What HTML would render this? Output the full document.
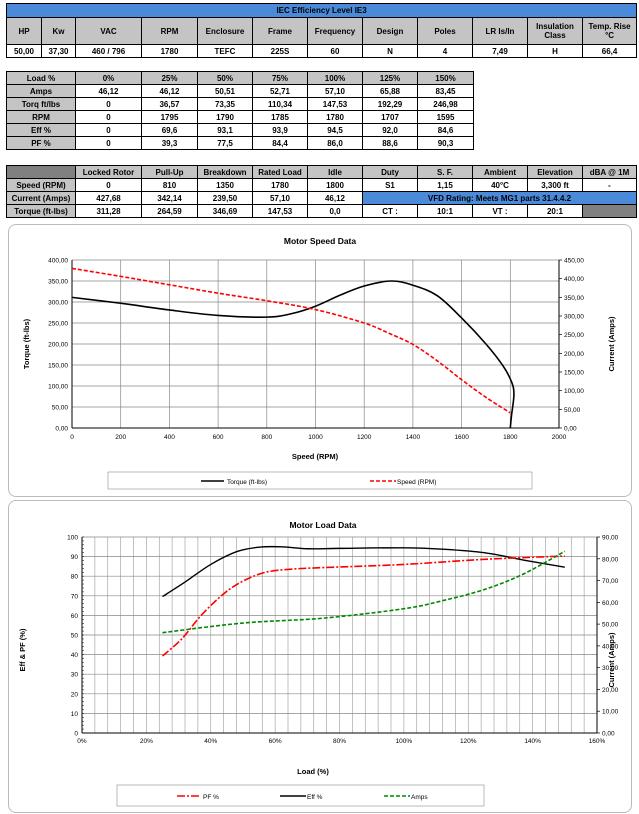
<!DOCTYPE html>
<html><head><meta charset="utf-8">
<style>
body{margin:0;width:639px;height:814px;background:#fff;position:relative;overflow:hidden;font-family:"Liberation Sans",sans-serif}
table{position:absolute;border-collapse:collapse;table-layout:fixed;font-size:8px;font-weight:bold;text-align:center}
td{border:1.5px solid #000;padding:0;overflow:hidden;white-space:nowrap;line-height:9px}
.g{background:#c4c4c4}
.d{background:#808080}
.b{background:#4a8ad8}
.panel{position:absolute;border:1px solid #bbb;border-radius:8px;background:#fff}
svg text{font-family:"Liberation Sans",sans-serif}
</style></head><body>

<table style="left:6px;top:3px;width:630px">
<colgroup><col style="width:35px"><col style="width:34px"><col style="width:66px"><col style="width:56px"><col style="width:55px"><col style="width:55px"><col style="width:55px"><col style="width:55px"><col style="width:55px"><col style="width:55px"><col style="width:55px"><col style="width:54px"></colgroup>
<tr style="height:14px"><td class="b" colspan="12">IEC Efficiency Level IE3</td></tr>
<tr style="height:27px" class="g"><td class="g">HP</td><td class="g">Kw</td><td class="g">VAC</td><td class="g">RPM</td><td class="g">Enclosure</td><td class="g">Frame</td><td class="g">Frequency</td><td class="g">Design</td><td class="g">Poles</td><td class="g">LR Is/In</td><td class="g">Insulation<br>Class</td><td class="g">Temp. Rise<br>°C</td></tr>
<tr style="height:13px"><td>50,00</td><td>37,30</td><td>460 / 796</td><td>1780</td><td>TEFC</td><td>225S</td><td>60</td><td>N</td><td>4</td><td>7,49</td><td>H</td><td>66,4</td></tr>
</table>

<table style="left:6px;top:71px;width:467px">
<colgroup><col style="width:69px"><col style="width:66px"><col style="width:56px"><col style="width:55px"><col style="width:55px"><col style="width:55px"><col style="width:55px"><col style="width:56px"></colgroup>
<tr style="height:13px"><td class="g">Load %</td><td class="g">0%</td><td class="g">25%</td><td class="g">50%</td><td class="g">75%</td><td class="g">100%</td><td class="g">125%</td><td class="g">150%</td></tr>
<tr style="height:13px"><td class="g">Amps</td><td>46,12</td><td>46,12</td><td>50,51</td><td>52,71</td><td>57,10</td><td>65,88</td><td>83,45</td></tr>
<tr style="height:13px"><td class="g">Torq ft/lbs</td><td>0</td><td>36,57</td><td>73,35</td><td>110,34</td><td>147,53</td><td>192,29</td><td>246,98</td></tr>
<tr style="height:13px"><td class="g">RPM</td><td>0</td><td>1795</td><td>1790</td><td>1785</td><td>1780</td><td>1707</td><td>1595</td></tr>
<tr style="height:13px"><td class="g">Eff %</td><td>0</td><td>69,6</td><td>93,1</td><td>93,9</td><td>94,5</td><td>92,0</td><td>84,6</td></tr>
<tr style="height:13px"><td class="g">PF %</td><td>0</td><td>39,3</td><td>77,5</td><td>84,4</td><td>86,0</td><td>88,6</td><td>90,3</td></tr>
</table>

<table style="left:6px;top:165px;width:630px">
<colgroup><col style="width:69px"><col style="width:66px"><col style="width:56px"><col style="width:55px"><col style="width:55px"><col style="width:55px"><col style="width:55px"><col style="width:55px"><col style="width:55px"><col style="width:55px"><col style="width:54px"></colgroup>
<tr style="height:13px"><td class="d"></td><td class="g">Locked Rotor</td><td class="g">Pull-Up</td><td class="g">Breakdown</td><td class="g">Rated Load</td><td class="g">Idle</td><td class="g">Duty</td><td class="g">S. F.</td><td class="g">Ambient</td><td class="g">Elevation</td><td class="g">dBA @ 1M</td></tr>
<tr style="height:13px"><td class="g">Speed (RPM)</td><td>0</td><td>810</td><td>1350</td><td>1780</td><td>1800</td><td>S1</td><td>1,15</td><td>40°C</td><td>3,300 ft</td><td>-</td></tr>
<tr style="height:13px"><td class="g">Current (Amps)</td><td>427,68</td><td>342,14</td><td>239,50</td><td>57,10</td><td>46,12</td><td class="b" colspan="5">VFD Rating: Meets MG1 parts 31.4.4.2</td></tr>
<tr style="height:13px"><td class="g">Torque (ft-lbs)</td><td>311,28</td><td>264,59</td><td>346,69</td><td>147,53</td><td>0,0</td><td>CT :</td><td>10:1</td><td>VT :</td><td>20:1</td><td class="d"></td></tr>
</table>

<div class="panel" style="left:8px;top:224px;width:622px;height:271px"></div>
<div class="panel" style="left:8px;top:500px;width:622px;height:311px"></div>

<svg id="s" width="639" height="814" style="position:absolute;left:0;top:0"></svg>

<script>
var s=document.getElementById('s'),h='';
function t(x,y,str,o){o=o||{};h+='<text x="'+x+'" y="'+y+'" font-size="'+(o.fs||7)+'" text-anchor="'+(o.a||'middle')+'" font-weight="'+(o.w||'normal')+'"'+(o.tr?' transform="'+o.tr+'"':'')+'>'+str+'</text>';}
function l(x1,y1,x2,y2,c,w){h+='<line x1="'+x1+'" y1="'+y1+'" x2="'+x2+'" y2="'+y2+'" stroke="'+c+'" stroke-width="'+(w||0.7)+'"/>';}
function curve(pts,fx,fy,c,w,dash){
 var P=pts.map(function(p){return [fx(p[0]),fy(p[1])];});
 var d='M'+P[0][0]+','+P[0][1];
 for(var i=0;i<P.length-1;i++){var p0=P[i-1]||P[i],p1=P[i],p2=P[i+1],p3=P[i+2]||p2;
  d+=' C'+(p1[0]+(p2[0]-p0[0])/6)+','+(p1[1]+(p2[1]-p0[1])/6)+' '+(p2[0]-(p3[0]-p1[0])/6)+','+(p2[1]-(p3[1]-p1[1])/6)+' '+p2[0]+','+p2[1];}
 h+='<path d="'+d+'" fill="none" stroke="'+c+'" stroke-width="'+w+'"'+(dash?' stroke-dasharray="'+dash+'"':'')+'/>';}
function fmt(v){return v.toFixed(2).replace('.',',');}
var X0=72,X1=559,Y0=428,Y1=260;
var fx=function(v){return X0+(X1-X0)*v/2000},fy=function(v){return Y0-(Y0-Y1)*v/400};
for(var v=0;v<=2000;v+=200){l(fx(v),Y1,fx(v),Y0,'#888');t(fx(v),Y0+11,v,{fs:6.5});}
for(var v=0;v<=400;v+=50){l(X0,fy(v),X1,fy(v),'#888');t(X0-4,fy(v)+2.5,fmt(v),{fs:6.5,a:'end'});}
for(var v=0;v<=450;v+=50){var y=Y0-(Y0-Y1)*v/450;l(X1,y,X1+3,y,'#000');t(X1+5,y+2.5,fmt(v),{fs:6.5,a:'start'});}
l(X0,Y1,X0,Y0,'#000',1);l(X1,Y1,X1,Y0,'#000',1);l(X0,Y0,X1,Y0,'#000',1);
t(320,244,'Motor Speed Data',{fs:8.5,w:'bold'});
t(315,459,'Speed (RPM)',{fs:7.5,w:'bold'});
t(29,344,'Torque (ft-lbs)',{fs:7.5,w:'bold',tr:'rotate(-90 29 344)'});
t(614,344,'Current (Amps)',{fs:7.5,w:'bold',tr:'rotate(-90 614 344)'});
curve([[0,311],[200,297],[400,281],[600,268],[800,264],[900,272],[1000,290],[1100,316],[1200,338],[1310,350],[1400,340],[1500,315],[1600,262],[1700,200],[1770,148],[1805,110],[1815,80],[1805,30],[1800,0]],fx,fy,'#000',1.6);
curve([[0,380],[200,361],[400,341],[600,321],[800,303],[1000,282],[1200,250],[1300,226],[1400,199],[1500,160],[1600,115],[1700,73],[1800,36]],fx,fy,'#f00',1.6,'4,2');
h+='<rect x="108" y="472" width="424" height="17" fill="none" stroke="#aaa" stroke-width="0.8"/>';
l(201,481,224,481,'#000',1.6);t(227,484,'Torque (ft-lbs)',{fs:6.5,a:'start'});
h+='<line x1="370" y1="481" x2="396" y2="481" stroke="#f00" stroke-width="1.6" stroke-dasharray="4,2"/>';
t(397,484,'Speed (RPM)',{fs:6.5,a:'start'});
var A0=82,A1=597,B0=733,B1=537;
var gx=function(v){return A0+(A1-A0)*v/160},gy=function(v){return B0-(B0-B1)*v/100};
for(var v=0;v<=160;v+=4){l(gx(v),B1,gx(v),B0,'#999',0.6);}
for(var v=0;v<=160;v+=20){t(gx(v),B0+10,v+'%',{fs:6.5});}
for(var v=0;v<=100;v+=10){l(A0,gy(v),A1,gy(v),'#888');t(A0-4,gy(v)+2.5,v,{fs:6.5,a:'end'});}
for(var v=0;v<=100;v+=2){l(A0,gy(v),A0+2,gy(v),'#000',0.5);}
for(var v=0;v<=90;v+=10){var y=B0-(B0-B1)*v/90;l(A1,y,A1+3,y,'#000');t(A1+5,y+2.5,fmt(v),{fs:6.5,a:'start'});}
l(A0,B1,A0,B0,'#000',1);l(A1,B1,A1,B0,'#000',1);l(A0,B0,A1,B0,'#000',1);
t(323,528,'Motor Load Data',{fs:8.5,w:'bold'});
t(313,774,'Load (%)',{fs:7.5,w:'bold'});
t(25,650,'Eff &amp; PF (%)',{fs:7.5,w:'bold',tr:'rotate(-90 25 650)'});
t(614,660,'Current (Amps)',{fs:7.5,w:'bold',tr:'rotate(-90 614 660)'});
curve([[25,69.6],[32,77],[40,86],[48,92.5],[55,94.8],[62,95],[70,94],[80,94.2],[100,94.5],[112,93.8],[125,92],[138,88],[150,84.6]],gx,gy,'#000',1.4);
curve([[25,39.3],[31,48],[37,60],[44,71],[50,77.5],[57,82],[65,83.6],[75,84.4],[100,86],[125,88.6],[150,90.3]],gx,gy,'#f00',1.6,'8,2,2,2');
curve([[25,51.2],[50,56.1],[75,58.6],[100,63.4],[112,67.5],[125,73.2],[137,81],[150,92.7]],gx,gy,'#080',1.6,'4,2');
h+='<rect x="117" y="785" width="367" height="21" fill="none" stroke="#aaa" stroke-width="0.8"/>';
h+='<line x1="177" y1="796" x2="200" y2="796" stroke="#f00" stroke-width="1.6" stroke-dasharray="8,2,2,2"/>';
t(203,799,'PF %',{fs:6.5,a:'start'});
l(280,796,306,796,'#000',1.6);t(307,799,'Eff %',{fs:6.5,a:'start'});
h+='<line x1="384" y1="796" x2="410" y2="796" stroke="#080" stroke-width="1.6" stroke-dasharray="4,2"/>';
t(411,799,'Amps',{fs:6.5,a:'start'});
s.innerHTML=h;
</script>
</body></html>
